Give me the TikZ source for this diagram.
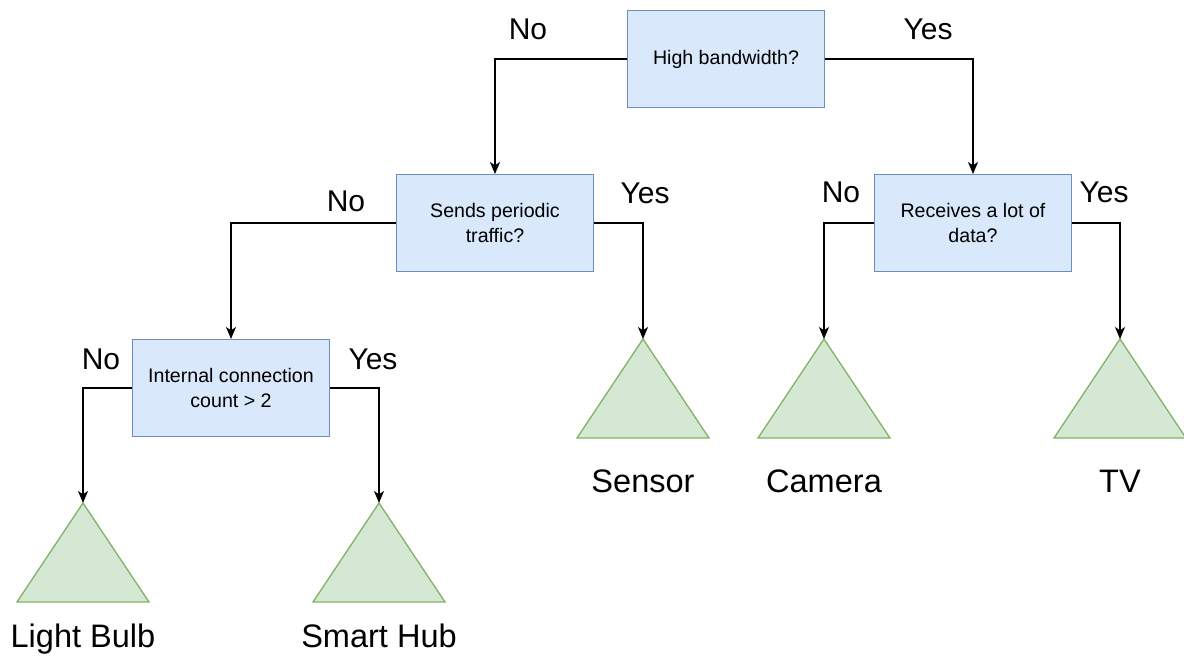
\documentclass[tikz,border=0pt]{standalone}
\usepackage{fontspec}
\setmainfont{Liberation Sans}
\usetikzlibrary{arrows.meta}
\definecolor{qfill}{HTML}{DAE8FC}
\definecolor{qline}{HTML}{6C8EBF}
\definecolor{lfill}{HTML}{D5E8D4}
\definecolor{lline}{HTML}{82B366}
\tikzset{
  question/.style={draw=qline, fill=qfill, line width=1pt, minimum width=148pt,
    minimum height=72.5pt, align=center, inner sep=2pt,
    font=\fontsize{14.7}{18.7}\selectfont},
  flow/.style={line width=1pt, -{Stealth[length=9pt, width=7.5pt, inset=2.5pt]}},
  answer/.style={font=\fontsize{22.5}{26}\selectfont},
  leaftext/.style={anchor=base, font=\fontsize{24.4}{28}\selectfont},
  leafshape/.style={draw=lline, fill=lfill, line width=1pt}
}
\begin{document}
\begin{tikzpicture}[x=0.75pt, y=-0.75pt]
        \useasboundingbox (0,0) rectangle (1184,657);

        % questions
        \node[question] (hb)  at (726,59)  {High bandwidth?};
        \node[question] (spt) at (495,223) {Sends periodic\\traffic?};
        \node[question] (rld) at (973,223) {Receives a lot of\\data?};
        \node[question] (icc) at (231,388) {Internal connection\\count > 2};

        % leaves
        \foreach \n/\x/\y/\t/\ty in {bulb/83/503/Light Bulb/647, hub/379/503/Smart Hub/647,
            sensor/643/339/Sensor/492, camera/824/339/Camera/492, tv/1120/339/TV/492} {
          \draw[leafshape] (\x,\y) -- (\x+66,\y+99) -- (\x-66,\y+99) -- cycle;
          \coordinate (\n) at (\x,\y);
          \node[leaftext] (\n-label) at (\x,\ty) {\t};
        }

        \draw[flow] (hb.west) -| (spt.north);
        \draw[flow] (hb.east) -| (rld.north);
        \draw[flow] (spt.west) -| (icc.north);
        \draw[flow] (spt.east) -| (sensor);
        \draw[flow] (rld.west) -| (camera);
        \draw[flow] (rld.east) -| (tv);
        \draw[flow] (icc.west) -| (bulb);
        \draw[flow] (icc.east) -| (hub);

        \node[answer] (a1) at (528,29)  {No};
        \node[answer] (a2) at (928,29)  {Yes};
        \node[answer] (a3) at (346,201) {No};
        \node[answer] (a4) at (645,193) {Yes};
        \node[answer] (a5) at (841,192) {No};
        \node[answer] (a6) at (1104,192) {Yes};
        \node[answer] (a7) at (101,359) {No};
        \node[answer] (a8) at (373,359) {Yes};
\end{tikzpicture}
\end{document}
